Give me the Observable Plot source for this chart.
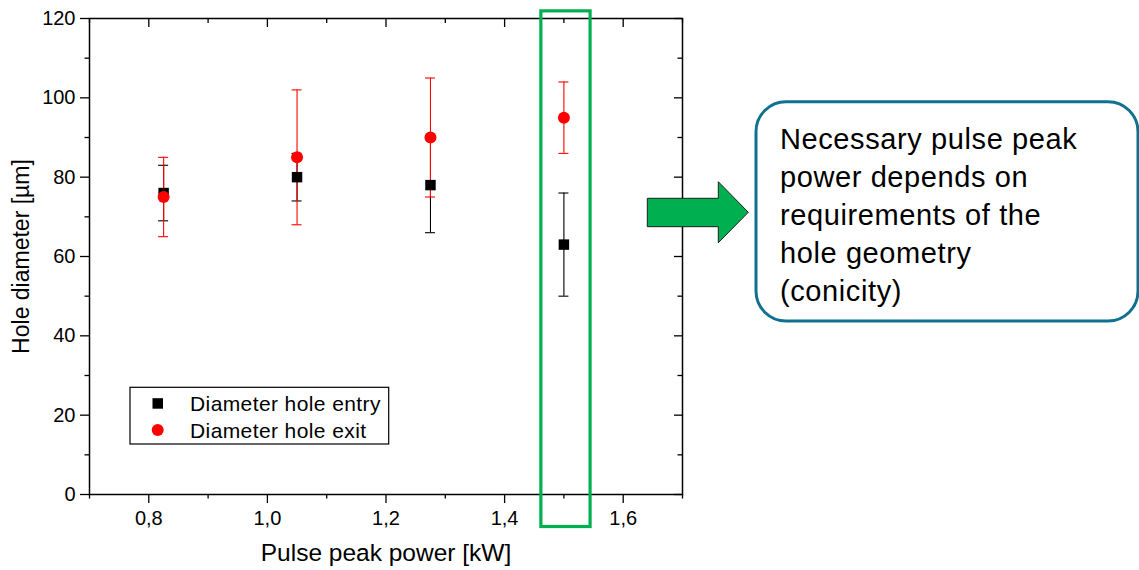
<!DOCTYPE html>
<html><head><meta charset="utf-8">
<script src="https://cdn.jsdelivr.net/npm/d3@7"></script>
<script src="https://cdn.jsdelivr.net/npm/@observablehq/plot@0.6"></script>
<style>
html,body{margin:0;padding:0;background:#fff;overflow:hidden}
#wrap{position:relative;width:1139px;height:570px}
#wrap svg{display:block}
#overlay{position:absolute;left:0;top:0;pointer-events:none}
</style></head><body>
<div id="wrap"></div>
<script>
// ---- data ----
const power = [0.825, 1.05, 1.275, 1.5];
const entryDiameter = [76, 80, 78, 63];
const entryLow = [69, 74, 66, 50];
const entryHigh = [83, 86, 90, 76];
const exitDiameter = [75, 85, 90, 95];
const exitLow = [65, 68, 75, 86];
const exitHigh = [85, 102, 105, 104];
const xMajorTicks = [0.8, 1.0, 1.2, 1.4, 1.6];
const xMinorTicks = [0.7, 0.9, 1.1, 1.3, 1.5, 1.7];
const yMajorTicks = [0, 20, 40, 60, 80, 100, 120];
const yMinorTicks = [10, 30, 50, 70, 90, 110];
const highlightX = [1.462, 1.545];
const highlightY = [-8.2, 121.8];
const seriesNames = ["Diameter hole entry", "Diameter hole exit"];
const xTitle = "Pulse peak power [kW]";
const yTitle = "Hole diameter [µm]";
const calloutLines = ["Necessary pulse peak", "power depends on", "requirements of the", "hole geometry", "(conicity)"];

const entry = power.map((x, i) => ({x, y: entryDiameter[i], lo: entryLow[i], hi: entryHigh[i]}));
const exit = power.map((x, i) => ({x, y: exitDiameter[i], lo: exitLow[i], hi: exitHigh[i]}));
const highlight = [{x1: highlightX[0], x2: highlightX[1], y1: highlightY[0], y2: highlightY[1]}];

const W = 1139, H = 570;
const mL = 89, mR = 457, mT = 18, mB = 76;
const pw = W - mL - mR, ph = H - mT - mB;
const AX = 1.3;
const font = "'Liberation Sans', Arial, sans-serif";

const errorMarks = (data, color) => [
  Plot.ruleX(data, {x: "x", y1: "lo", y2: "hi", stroke: color, strokeWidth: 1.1}),
  Plot.ruleY(data, {y: "lo", x1: "x", x2: "x", insetLeft: -5, insetRight: -5, stroke: color, strokeWidth: 1.1}),
  Plot.ruleY(data, {y: "hi", x1: "x", x2: "x", insetLeft: -5, insetRight: -5, stroke: color, strokeWidth: 1.1})
];

const plot = Plot.plot({
  width: W, height: H,
  marginLeft: mL, marginRight: mR, marginTop: mT, marginBottom: mB,
  x: {domain: [0.7, 1.7]},
  y: {domain: [0, 120]},
  style: {fontFamily: font, fontSize: "20px", color: "#000", background: "#fff", overflow: "visible"},
  marks: [
    Plot.axisX({ticks: xMajorTicks, tickSize: 9, tickPadding: 7, tickFormat: d => d.toFixed(1).replace(".", ","), label: null, strokeWidth: AX}),
    Plot.axisX({ticks: xMinorTicks, tickSize: 4.5, tickFormat: () => "", label: null, strokeWidth: AX}),
    Plot.axisY({ticks: yMajorTicks, tickSize: 9, tickPadding: 5, label: null, strokeWidth: AX}),
    Plot.axisY({ticks: yMinorTicks, tickSize: 4.5, tickFormat: () => "", label: null, strokeWidth: AX}),
    Plot.tickX(xMajorTicks, {x: d => d, insetBottom: ph - 9, strokeWidth: AX}),
    Plot.tickX(xMinorTicks, {x: d => d, insetBottom: ph - 5, strokeWidth: AX}),
    Plot.tickY(yMajorTicks, {y: d => d, insetLeft: pw - 8, strokeWidth: AX}),
    Plot.tickY(yMinorTicks, {y: d => d, insetLeft: pw - 4.5, strokeWidth: AX}),
    Plot.frame({stroke: "#000", strokeWidth: 1.5}),
    Plot.text([xTitle], {text: d => d, frameAnchor: "bottom", dy: 59, fontSize: 24.5, lineAnchor: "middle", textAnchor: "middle"}),
    Plot.text([yTitle], {text: d => d, frameAnchor: "left", rotate: -90, dx: -68, fontSize: 23, lineAnchor: "middle", textAnchor: "middle"}),
    ...errorMarks(entry, "#000"),
    ...errorMarks(exit, "#ff0000"),
    Plot.dot(entry, {x: "x", y: "y", symbol: "square", r: 5.9, fill: "#000", stroke: "none"}),
    Plot.dot(exit, {x: "x", y: "y", symbol: "circle", r: 6, fill: "#ff0000", stroke: "none"}),
    Plot.rect(highlight, {x1: "x1", x2: "x2", y1: "y1", y2: "y2", fill: "none", stroke: "#00b050", strokeWidth: 3.2})
  ]
});
const wrap = document.getElementById("wrap");
wrap.appendChild(plot);

// ---- overlay: legend, arrow, callout ----
const NS = "http://www.w3.org/2000/svg";
const ov = d3.select(wrap).append("svg").attr("id", "overlay").attr("xmlns", NS)
  .attr("width", W).attr("height", H).attr("viewBox", `0 0 ${W} ${H}`)
  .style("font-family", font);

// legend
const lg = ov.append("g");
lg.append("rect").attr("x", 130).attr("y", 387.3).attr("width", 258.7).attr("height", 56.7)
  .attr("fill", "#fff").attr("stroke", "#000").attr("stroke-width", 1.2);
lg.append("rect").attr("x", 152.5).attr("y", 398.2).attr("width", 10.5).attr("height", 10.5).attr("fill", "#000");
lg.append("circle").attr("cx", 157.7).attr("cy", 430).attr("r", 6).attr("fill", "#ff0000");
lg.selectAll("text.lt").data(seriesNames).join("text").attr("class", "lt")
  .attr("x", 190).attr("y", (d, i) => 410.9 + i * 26.7)
  .attr("font-size", 21).attr("letter-spacing", 0.4).attr("fill", "#000").text(d => d);

// arrow
ov.append("polygon")
  .attr("points", "647.3,198.3 718.3,198.3 718.3,181.7 748.3,212.3 718.3,242.7 718.3,226.7 647.3,226.7")
  .attr("fill", "#00b050").attr("stroke", "#1e1e1e").attr("stroke-width", 1);

// callout
ov.append("rect").attr("x", 756).attr("y", 101.7).attr("width", 382).attr("height", 219.3)
  .attr("rx", 30).attr("ry", 30).attr("fill", "#fff").attr("stroke", "#10708f").attr("stroke-width", 3);
ov.selectAll("text.ct").data(calloutLines).join("text").attr("class", "ct")
  .attr("x", 780).attr("y", (d, i) => 149.3 + i * 37.9)
  .attr("font-size", 29).attr("letter-spacing", 0.6).attr("fill", "#000").text(d => d);
</script>
</body></html>
